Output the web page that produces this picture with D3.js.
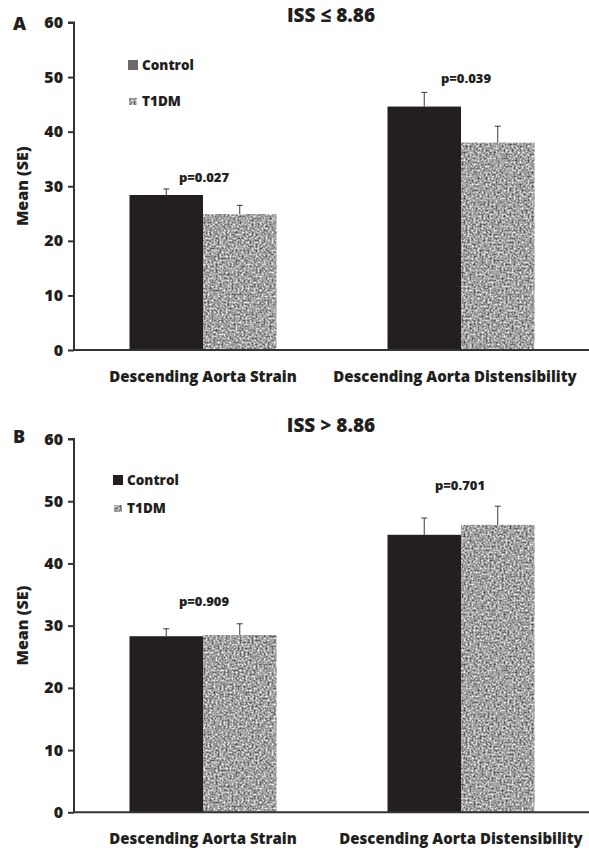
<!DOCTYPE html>
<html>
<head>
<meta charset="utf-8">
<script src="https://cdn.jsdelivr.net/npm/d3@7"></script>
<style>
  body { margin: 0; background: #fff; }
  text { font-family: "Open Sans", Lato, sans-serif; font-weight: 800; fill: #231f20; }
</style>
</head>
<body>
<div id="chart"></div>
<script>
// Categories and series
const categories = ['Descending Aorta Strain', 'Descending Aorta Distensibility'];
const series = ['Control', 'T1DM'];
const yTicks = [0, 10, 20, 30, 40, 50, 60];

// Panel A: ISS <= 8.86
const meansA = { 'Control': [28.4, 44.6], 'T1DM': [24.9, 38.0] };
const errA = { 'Control': [1.1, 2.6], 'T1DM': [1.6, 3.0] };
const pA = ['p=0.027', 'p=0.039'];

// Panel B: ISS > 8.86
const meansB = { 'Control': [28.3, 44.6], 'T1DM': [28.5, 46.2] };
const errB = { 'Control': [1.2, 2.7], 'T1DM': [1.8, 3.0] };
const pB = ['p=0.909', 'p=0.701'];

const W = 589, H = 852;
const svg = d3.select('#chart').append('svg')
    .attr('width', W).attr('height', H);

// Speckled grey texture for T1DM bars
const defs = svg.append('defs');
const noise = defs.append('filter')
    .attr('id', 'speckle')
    .attr('x', 0).attr('y', 0).attr('width', 1).attr('height', 1)
    .attr('color-interpolation-filters', 'sRGB');
noise.append('feTurbulence')
    .attr('type', 'fractalNoise')
    .attr('baseFrequency', 0.5)
    .attr('numOctaves', 3)
    .attr('seed', 3)
    .attr('result', 'turb');
noise.append('feColorMatrix')
    .attr('in', 'turb')
    .attr('type', 'matrix')
    .attr('values', '1.15 0 0 0 0.06  1.15 0 0 0 0.06  1.15 0 0 0 0.06  0 0 0 0 1')
    .attr('result', 'grey');
noise.append('feComposite')
    .attr('in', 'grey').attr('in2', 'SourceGraphic').attr('operator', 'in');

const colors = { 'Control': '#231f20', 'T1DM': '#a0a0a0' };

function drawPanel(cfg) {
    const g = svg.append('g');

    const x0 = d3.scaleBand().domain(categories).range([74, 590]);
    const x1 = d3.scaleBand().domain(series)
        .range([0, x0.bandwidth()])
        .paddingOuter(0.755);
    const y = d3.scaleLinear().domain([0, 60]).range([cfg.bottom, cfg.top]);

    // Bars
    categories.forEach((cat, i) => {
        series.forEach(s => {
            const v = cfg.means[s][i];
            const bx = x0(cat) + x1(s);
            const bar = g.append('rect')
                .attr('x', bx)
                .attr('y', y(v))
                .attr('width', x1.bandwidth())
                .attr('height', y(0) - y(v))
                .attr('fill', colors[s]);
            if (s === 'T1DM') bar.attr('filter', 'url(#speckle)');

            // Error bar (upper)
            const cx = bx + x1.bandwidth() / 2;
            const top = y(v + cfg.err[s][i]);
            g.append('line')
                .attr('x1', cx).attr('x2', cx)
                .attr('y1', y(v)).attr('y2', top)
                .attr('stroke', '#3a3a3a').attr('stroke-width', 1);
            g.append('line')
                .attr('x1', cx - 3).attr('x2', cx + 3)
                .attr('y1', top).attr('y2', top)
                .attr('stroke', '#3a3a3a').attr('stroke-width', 1);
        });

        // p-value label
        g.append('text')
            .attr('x', x0(cat) + x0.bandwidth() / 2 + cfg.pOffsets[i])
            .attr('y', cfg.pY[i])
            .attr('text-anchor', 'middle')
            .attr('font-size', 13)
            .text(cfg.p[i]);

        // category label
        g.append('text')
            .attr('x', x0(cat) + x0.bandwidth() / 2 + cfg.labelOffsets[i])
            .attr('y', cfg.bottom + 32)
            .attr('text-anchor', 'middle')
            .attr('font-size', 15)
            .text(cat);
    });

    // Y axis
    const yAxis = g.append('g')
        .attr('transform', 'translate(74,0)')
        .call(d3.axisLeft(y).tickValues(yTicks).tickSize(6).tickPadding(5));
    yAxis.select('.domain').attr('stroke', '#333').attr('stroke-width', 2)
        .attr('d', `M-6,${y(60)}H0V${y(0)}`);
    yAxis.selectAll('.tick line').attr('stroke', '#333').attr('stroke-width', 2);
    yAxis.selectAll('.tick text')
        .attr('font-size', 16)
        .attr('font-family', '"Open Sans", sans-serif')
        .attr('font-weight', 800)
        .attr('fill', '#231f20');

    // X axis line
    g.append('line')
        .attr('x1', 74).attr('x2', W)
        .attr('y1', y(0)).attr('y2', y(0))
        .attr('stroke', '#333').attr('stroke-width', 2);

    // Y axis title
    g.append('text')
        .attr('transform', `translate(28,${(y(0) + y(60)) / 2}) rotate(-90)`)
        .attr('text-anchor', 'middle')
        .attr('font-size', 16)
        .text('Mean (SE)');

    // Panel letter
    g.append('text')
        .attr('x', 13).attr('y', cfg.letterY)
        .attr('font-size', 18)
        .text(cfg.letter);

    // Panel title
    g.append('text')
        .attr('x', 331).attr('y', cfg.titleY)
        .attr('text-anchor', 'middle')
        .attr('font-size', 19)
        .text(cfg.title);

    // Legend
    const lg = g.append('g');
    series.forEach((s, i) => {
        const ly = cfg.legendY[i];
        if (s === 'Control') {
            lg.append('rect')
                .attr('x', cfg.legendX).attr('y', ly - 10)
                .attr('width', 10).attr('height', 10)
                .attr('fill', cfg.legendControl);
        } else {
            lg.append('rect')
                .attr('x', cfg.legendX + 1).attr('y', ly - 8)
                .attr('width', 8).attr('height', 7)
                .attr('fill', '#bdbdbd')
                .attr('filter', 'url(#speckle)');
        }
        lg.append('text')
            .attr('x', cfg.legendX + 14).attr('y', ly)
            .attr('font-size', 13.5)
            .text(s);
    });
}

drawPanel({
    top: 22.5, bottom: 350,
    means: meansA, err: errA, p: pA,
    pY: [182, 83], pOffsets: [1, 5], labelOffsets: [0, -6],
    letter: 'A', letterY: 30,
    title: 'ISS \u2264 8.86', titleY: 22,
    legendX: 128, legendY: [70, 106], legendControl: '#6b6b6b'
});

drawPanel({
    top: 439, bottom: 812.3,
    means: meansB, err: errB, p: pB,
    pY: [606, 490], pOffsets: [1, -1], labelOffsets: [0, 0],
    letter: 'B', letterY: 443,
    title: 'ISS > 8.86', titleY: 432,
    legendX: 113, legendY: [485, 513], legendControl: '#231f20'
});
</script>
</body>
</html>
